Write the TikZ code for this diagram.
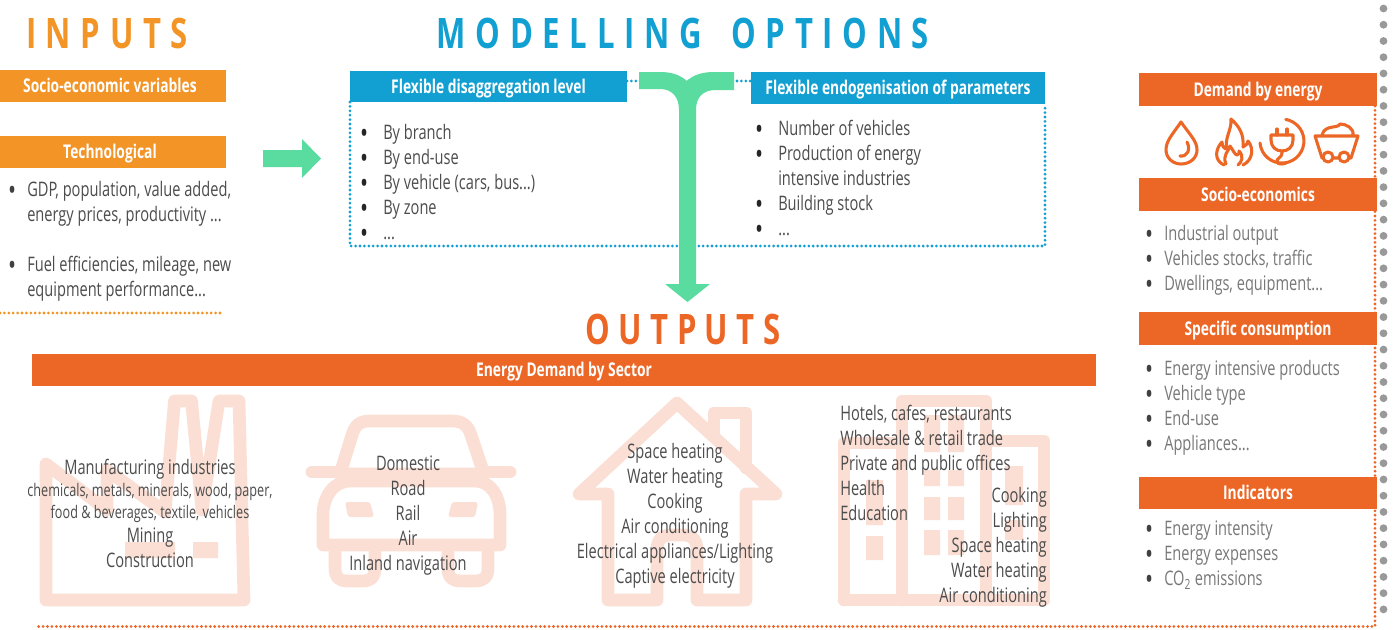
\documentclass[tikz,border=0pt]{standalone}
\usepackage{fontspec}
\setmainfont[FakeStretch=0.73]{Open Sans}
\newfontfamily\titlefont[FakeStretch=0.74,LetterSpace=23]{Open Sans}
\newfontfamily\titlefontB[FakeStretch=0.74,LetterSpace=20]{Open Sans}
\definecolor{oranA}{HTML}{F29426}
\definecolor{oranB}{HTML}{EC6726}
\definecolor{blueA}{HTML}{12A0D2}
\definecolor{greenA}{HTML}{5ADCA0}
\definecolor{paleO}{HTML}{FBDFD4}
\definecolor{txtD}{HTML}{4C4C4C}
\definecolor{txtL}{HTML}{787878}
\newcommand{\hdr}[7]{\node[hdrbox,fill=#6,minimum width={(#4-#2)*0.75pt},minimum height={(#5-#3)*0.75pt}] (#1) at ({(#2+#4)/2},{(#3+#5)/2}) {\smash{\raisebox{-5pt}{#7}}};}
\newcommand{\bi}[1]{\strut\makebox[12pt][l]{\hspace*{-2.4pt}\raisebox{-2.7pt}{\fontsize{22}{22}\selectfont\color{black!75}•}}#1}
\newcommand{\bj}[1]{\strut\makebox[15pt][l]{\hspace*{-2.4pt}\raisebox{-2.7pt}{\fontsize{22}{22}\selectfont\color{black!85}•}}#1}
\newcommand{\bc}[1]{\strut\hspace*{12pt}#1}
\newcommand{\bk}[1]{\strut\hspace*{15pt}#1}
\newcommand{\ttl}[1]{{\titlefont\bfseries #1}}
\tikzset{
  x=0.75pt,y=-0.75pt,
  hdrbox/.style={inner sep=0pt,text=white,font=\fontsize{14.2}{16}\selectfont\bfseries},
  listt/.style={inner sep=0pt,anchor=north west,align=left,font=\fontsize{15}{18.75}\selectfont},
  ctr/.style={inner sep=0pt,align=center,text=txtD,font=\fontsize{15}{18.75}\selectfont},
  pale/.style={draw=paleO,line width=9.5pt,line join=round,line cap=round},
  paleF/.style={fill=paleO},
  icon/.style={draw=oranB,line width=2.3pt,line join=round,line cap=round},
  dotl/.style={line width=2.3pt,line cap=round,dash pattern=on 0pt off 3.3pt},
}
\begin{document}
\begin{tikzpicture}
\useasboundingbox (0,0) rectangle (1398,629);
\fill[white] (0,0) rectangle (1398,629);
% grey edge dots
\foreach \k in {0,...,37} \fill[black!40] (1383.5,{8.5+\k*16.24}) circle[radius=3.9];
% dotted rules
\draw[dotl,draw=oranB] (1375,106) -- (1375,626.5) -- (38,626.5);
\draw[dotl,draw=oranA] (0,313) -- (224,313);
\draw[dotl,draw=blueA] (627,81) -- (751,81);
\draw[dotl,draw=blueA] (350,102) -- (350,246) -- (1045,246) -- (1045,104);
% titles
\node[inner sep=0pt,text=oranA,font=\fontsize{31.5}{36}\selectfont] (inputs) at (107,33) {\ttl{INPUTS}};
\node[inner sep=0pt,text=blueA,font=\fontsize{31.5}{36}\selectfont] (modelling) at (683,33) {\ttl{MODELLING\hspace{9pt} OPTIONS}};
\node[inner sep=0pt,text=oranB,font=\fontsize{31.5}{36}\selectfont] (outputs) at (683,329) {{\titlefontB\bfseries OUTPUTS}};
% inputs
\hdr{hsoc}{-6}{70}{226}{102}{oranA}{Socio-economic variables}
\hdr{htec}{-6}{136}{226}{168}{oranA}{Technological}
\node[listt,text=txtD] (l1) at (11,179) {\bi{GDP, population, value added,}\\\bc{energy prices, productivity ...}};
\node[listt,text=txtD] (l2) at (11,254) {\bi{Fuel efficiencies, mileage, new}\\\bc{equipment performance...}};
% green arrow right
\fill[greenA] (263,150) -- (302,150) -- (302,139) -- (321,158.5) -- (302,178) -- (302,167) -- (263,167) -- cycle;
% modelling
\hdr{hdis}{350}{71}{627}{102}{blueA}{Flexible disaggregation level}
\hdr{hend}{751}{72}{1045}{104}{blueA}{Flexible endogenisation of parameters}
\node[listt,text=txtD] (m1) at (363,122) {\bj{By branch}\\\bj{By end-use}\\\bj{By vehicle (cars, bus...)}\\\bj{By zone}\\\bj{...}};
\node[listt,text=txtD] (m2) at (758,118) {\bj{Number of vehicles}\\\bj{Production of energy}\\\bk{intensive industries}\\\bj{Building stock}\\\bj{...}};
% T arrow
\fill[greenA] (639,72) -- (660,72) .. controls (672,72) and (680,75) .. (687,81) .. controls (693,75) and (702,72) .. (714,72) -- (734,72) -- (734,90) -- (716,90) .. controls (703,90) and (696,97) .. (696,110) -- (696,284) -- (710,284) -- (687.5,302) -- (665,284) -- (679,284) -- (679,110) .. controls (679,97) and (672,89) .. (660,89) -- (639,89) -- cycle;
% right column
\hdr{hdem}{1139}{73}{1377}{106}{oranB}{Demand by energy}
\hdr{hse}{1139}{178}{1377}{211}{oranB}{Socio-economics}
\hdr{hspe}{1139}{312}{1377}{345}{oranB}{Specific consumption}
\hdr{hind}{1139}{477}{1377}{509}{oranB}{Indicators}
\node[listt,text=txtL] (r1) at (1148,223) {\bi{Industrial output}\\\bi{Vehicles stocks, traffic}\\\bi{Dwellings, equipment...}};
\node[listt,text=txtL] (r2) at (1148,358) {\bi{Energy intensive products}\\\bi{Vehicle type}\\\bi{End-use}\\\bi{Appliances...}};
\node[listt,text=txtL] (r3) at (1148,518) {\bi{Energy intensity}\\\bi{Energy expenses}\\\bi{CO\textsubscript{2} emissions}};
% energy icons
\draw[icon] (1181,122) .. controls (1172,135) and (1166,141) .. (1166,150) .. controls (1166,158) and (1173,164) .. (1181,164) .. controls (1190,164) and (1197,158) .. (1197,150) .. controls (1197,141) and (1190,135) .. (1181,122) -- cycle;
\draw[icon] (1187,142) .. controls (1191,150) and (1187,157) .. (1180,156);
\draw[icon] (1224,165) .. controls (1213,160) and (1216,148) .. (1222,142) .. controls (1222,146) and (1224,149) .. (1227,149) .. controls (1224,138) and (1232,130) .. (1231,119) .. controls (1240,127) and (1244,135) .. (1243,147) .. controls (1246,146) and (1248,143) .. (1248,141) .. controls (1254,148) and (1253,160) .. (1243,165);
\draw[icon] (1226,164) .. controls (1222,155) and (1229,151) .. (1230,146) .. controls (1233,150) and (1235,155) .. (1237,155) .. controls (1239,155) and (1240,152) .. (1239,151) .. controls (1244,156) and (1242,162) .. (1238,165);
\draw[icon] (1260,143) arc[start angle=175,end angle=-80,radius=22];
\draw[icon] (1282,151) -- (1282,153) .. controls (1282,158) and (1276,158) .. (1277,162) .. controls (1278,165) and (1284,164) .. (1286,163);
\draw[icon] (1271,135) -- (1293,135) -- (1293,140) .. controls (1293,147) and (1288,151) .. (1282,151) .. controls (1276,151) and (1271,147) .. (1271,140) -- cycle;
\draw[icon] (1277,129) -- (1277,135) (1287,129) -- (1287,135);
\draw[icon] (1315,136) -- (1358,136) -- (1351,158) -- (1322,158) -- cycle;
\draw[icon] (1322,135) .. controls (1325,124) and (1338,129) .. (1340,124) .. controls (1346,124) and (1354,128) .. (1353,135);
\draw[icon,fill=white] (1328,157) circle[radius=5] (1344,157) circle[radius=5];
% outputs bar
\hdr{hout}{32}{354}{1096}{386}{oranB}{Energy Demand by Sector}
% factory
\draw[pale] (46,600) -- (46,464) -- (107,510) -- (107,470) -- (165,512) -- (174.5,401) -- (191.5,401) -- (202,510) -- (219,401) -- (239,401) -- (244,600) -- cycle;
\fill[paleF] (125,542) rectangle (175,558) (193,542) rectangle (218,558);
% car
\draw[pale] (312,472) -- (335,472) (490,472) -- (510,472);
\draw[pale] (340,474) -- (484,474) (340,474) -- (352,435) .. controls (355,425) and (360,421) .. (370,421) -- (452,421) .. controls (462,421) and (468,425) .. (471,435) -- (484,474);
\draw[pale] (323,545) -- (323,515) .. controls (323,495) and (335,481) .. (350,481) -- (475,481) .. controls (490,481) and (500,495) .. (500,515) -- (500,545) -- cycle;
\draw[pale] (335,552) -- (335,568) .. controls (335,578) and (340,581) .. (347,581) -- (362,581) .. controls (370,581) and (375,578) .. (375,568) -- (375,552);
\draw[pale] (448,552) -- (448,568) .. controls (448,578) and (453,581) .. (460,581) -- (475,581) .. controls (483,581) and (488,578) .. (488,568) -- (488,552);
\fill[paleF,rounded corners=2pt] (345,502) -- (370,502) -- (374,517) -- (348,517) -- cycle (452,502) -- (478,502) -- (475,517) -- (448,517) -- cycle;
% house
\draw[pale] (579,494) -- (677,403) -- (776,494) -- (746,494) -- (746,600) -- (697,600) -- (697,550) .. controls (697,540) and (692,535) .. (685,535) -- (669,535) .. controls (662,535) and (657,540) .. (657,550) -- (657,600) -- (608,600) -- (608,494) -- cycle;
\draw[pale] (714,436) -- (714,413) -- (746,413) -- (746,468);
% building
\draw[pale] (844,600) -- (1044,600) -- (1044,441) -- (986,441) (844,600) -- (844,443) -- (902,443) (902,600) -- (902,401) -- (986,401) -- (986,600);
\fill[paleF] (924,415) rectangle (940,452) (948,415) rectangle (964,452)
 (924,470) rectangle (940,486) (948,470) rectangle (964,486)
 (924,497) rectangle (940,520) (948,497) rectangle (964,520)
 (924,530) rectangle (940,555) (948,530) rectangle (964,555)
 (866,480) rectangle (883,525) (866,536) rectangle (883,560)
 (1005,466) rectangle (1023,505) (1005,520) rectangle (1023,540);
% sector texts
\node[ctr] (t1) at (150,469) {Manufacturing industries};
\node[ctr,font=\fontsize{13}{16}\selectfont] (t2) at (150,503) {chemicals, metals, minerals, wood, paper,\\food \& beverages, textile, vehicles};
\node[ctr] (t3) at (150,547.5) {Mining\\Construction};
\node[ctr] (t4) at (408,515.5) {Domestic\\Road\\Rail\\Air\\Inland navigation};
\node[ctr] (t5) at (675,515.5) {Space heating\\Water heating\\Cooking\\Air conditioning\\Electrical appliances/Lighting\\Captive electricity};
\node[listt,text=txtD] (t6) at (840,403) {\strut Hotels, cafes, restaurants\\Wholesale \& retail trade\\Private and public offices\\Health\\Education};
\node[inner sep=0pt,anchor=north east,align=right,text=txtD,font=\fontsize{15}{18.75}\selectfont] (t7) at (1047,485) {\strut Cooking\\Lighting\\Space heating\\Water heating\\Air conditioning};
\end{tikzpicture}
\end{document}
